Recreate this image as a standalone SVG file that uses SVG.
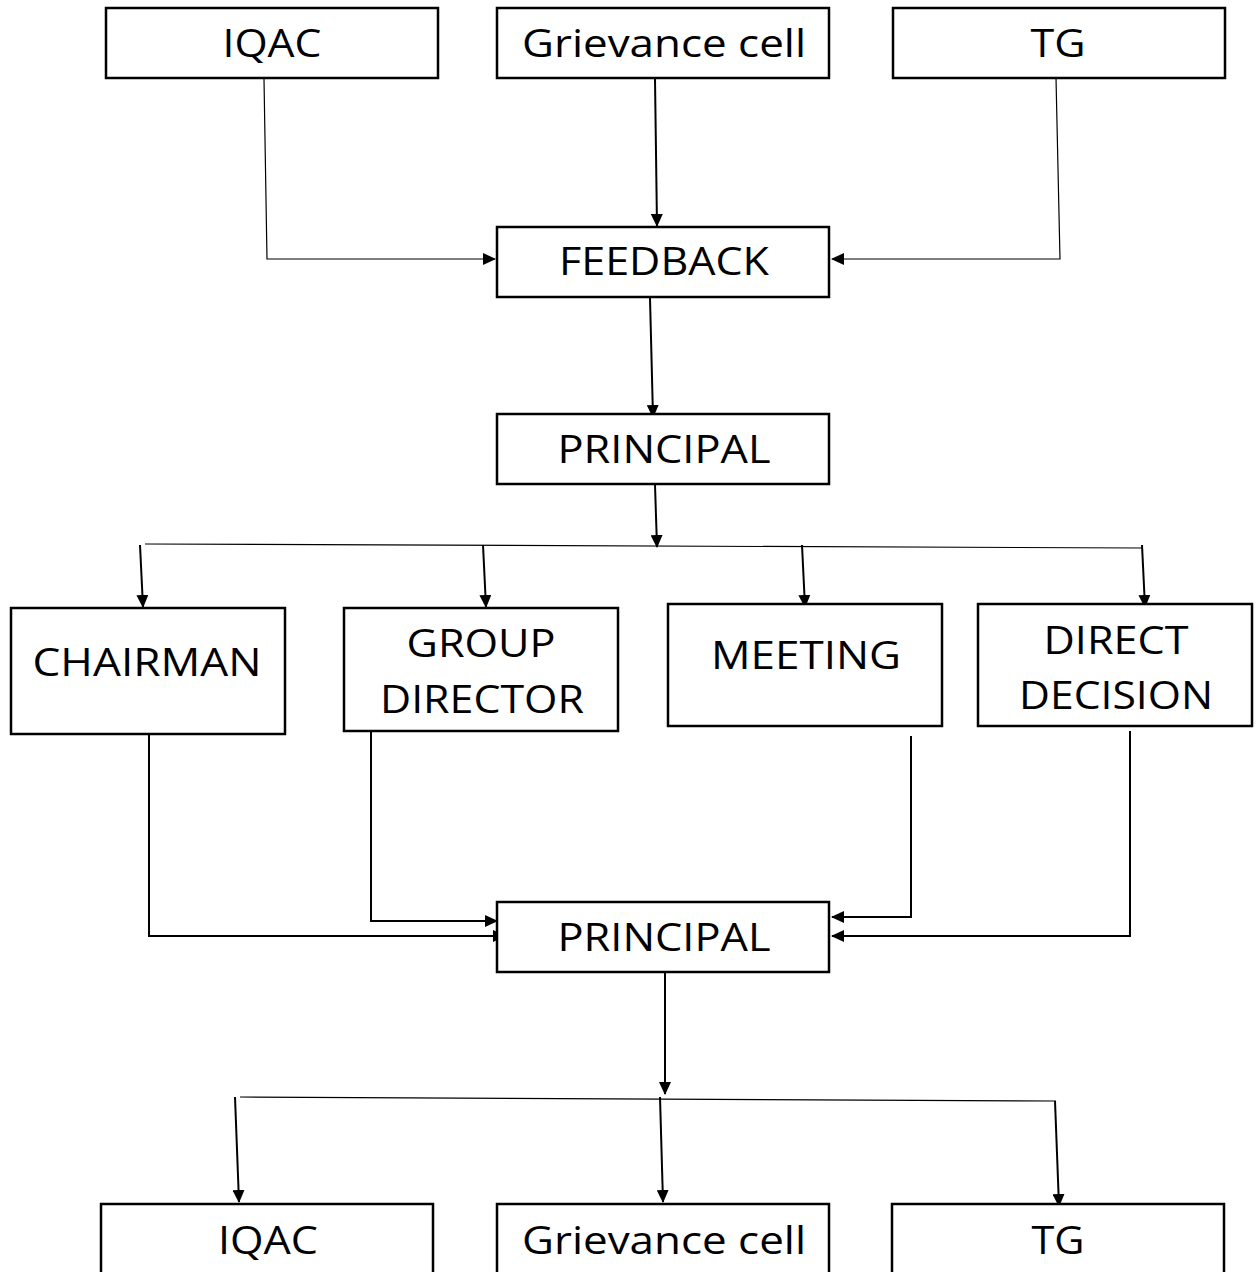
<svg xmlns="http://www.w3.org/2000/svg" width="1256" height="1272" viewBox="0 0 1256 1272">
<style>
.box{fill:#fff;stroke:#000;stroke-width:2.5}
.t{font-family:"Open Sans","Liberation Sans",sans-serif;font-size:38px;fill:#000;text-anchor:middle}
.c{fill:none;stroke:#000;stroke-width:2}
.thin{fill:none;stroke:#000;stroke-width:1.2}
</style>
<defs>
<marker id="ah" markerWidth="13" markerHeight="12" refX="12" refY="6" orient="auto" markerUnits="userSpaceOnUse" viewBox="0 0 13 12">
<path d="M0,0 L13,6 L0,12 Z" fill="#000"/>
</marker>
</defs>
<rect width="1256" height="1272" fill="#fff"/>
<g id="connectors">
<polyline class="thin" points="264,79 267,259 495,259" marker-end="url(#ah)"/>
<line class="c" x1="655" y1="79" x2="657" y2="226" marker-end="url(#ah)"/>
<polyline class="thin" points="1056,78 1060,259 832,259" marker-end="url(#ah)"/>
<line class="c" x1="650" y1="298" x2="653" y2="417" marker-end="url(#ah)"/>
<line class="c" x1="655" y1="485" x2="657" y2="547" marker-end="url(#ah)"/>
<line class="thin" x1="145" y1="544" x2="1143" y2="548"/>
<line class="c" x1="140" y1="545" x2="143" y2="607" marker-end="url(#ah)"/>
<line class="c" x1="483" y1="545" x2="486" y2="607" marker-end="url(#ah)"/>
<line class="c" x1="802" y1="545" x2="805" y2="607" marker-end="url(#ah)"/>
<line class="c" x1="1142" y1="545" x2="1145" y2="607" marker-end="url(#ah)"/>
<line class="c" x1="147" y1="732" x2="154" y2="732"/>
<polyline class="c" points="149,732 149,936 505,936" marker-end="url(#ah)"/>
<polyline class="c" points="371,731 371,921 497,921" marker-end="url(#ah)"/>
<polyline class="c" points="911,736 911,917 832,917" marker-end="url(#ah)"/>
<polyline class="c" points="1130,731 1130,936 832,936" marker-end="url(#ah)"/>
<line class="c" x1="665" y1="972" x2="665" y2="1094" marker-end="url(#ah)"/>
<line class="thin" x1="240" y1="1097" x2="1056" y2="1101"/>
<line class="c" x1="235" y1="1097" x2="239" y2="1202" marker-end="url(#ah)"/>
<line class="c" x1="660" y1="1097" x2="663" y2="1202" marker-end="url(#ah)"/>
<line class="c" x1="1055" y1="1101" x2="1059" y2="1206" marker-end="url(#ah)"/>
</g>
<g id="iqac-top"><rect class="box" x="106" y="8" width="332" height="70"/><text class="t" x="272" y="57" textLength="99" lengthAdjust="spacingAndGlyphs">IQAC</text></g>
<g id="grievance-top"><rect class="box" x="497" y="8" width="332" height="70"/><text class="t" x="664" y="57" textLength="284" lengthAdjust="spacingAndGlyphs">Grievance cell</text></g>
<g id="tg-top"><rect class="box" x="893" y="8" width="332" height="70"/><text class="t" x="1058" y="57" textLength="55" lengthAdjust="spacingAndGlyphs">TG</text></g>
<g id="feedback"><rect class="box" x="497" y="227" width="332" height="70"/><text class="t" x="664" y="275" textLength="210" lengthAdjust="spacingAndGlyphs">FEEDBACK</text></g>
<g id="principal-1"><rect class="box" x="497" y="414" width="332" height="70"/><text class="t" x="664" y="463" textLength="213" lengthAdjust="spacingAndGlyphs">PRINCIPAL</text></g>
<g id="chairman"><rect class="box" x="11" y="608" width="274" height="126"/><text class="t" x="147" y="676" textLength="229" lengthAdjust="spacingAndGlyphs">CHAIRMAN</text></g>
<g id="group-director"><rect class="box" x="344" y="608" width="274" height="123"/><text class="t" x="481" y="657" textLength="149" lengthAdjust="spacingAndGlyphs">GROUP</text><text class="t" x="482" y="713" textLength="204" lengthAdjust="spacingAndGlyphs">DIRECTOR</text></g>
<g id="meeting"><rect class="box" x="668" y="604" width="274" height="122"/><text class="t" x="806" y="669" textLength="190" lengthAdjust="spacingAndGlyphs">MEETING</text></g>
<g id="direct-decision"><rect class="box" x="978" y="604" width="274" height="122"/><text class="t" x="1116" y="654" textLength="145" lengthAdjust="spacingAndGlyphs">DIRECT</text><text class="t" x="1116" y="709" textLength="194" lengthAdjust="spacingAndGlyphs">DECISION</text></g>
<g id="principal-2"><rect class="box" x="497" y="902" width="332" height="70"/><text class="t" x="664" y="951" textLength="213" lengthAdjust="spacingAndGlyphs">PRINCIPAL</text></g>
<g id="iqac-bottom"><rect class="box" x="101" y="1204" width="332" height="80"/><text class="t" x="268" y="1254" textLength="100" lengthAdjust="spacingAndGlyphs">IQAC</text></g>
<g id="grievance-bottom"><rect class="box" x="497" y="1204" width="332" height="80"/><text class="t" x="664" y="1254" textLength="284" lengthAdjust="spacingAndGlyphs">Grievance cell</text></g>
<g id="tg-bottom"><rect class="box" x="892" y="1204" width="332" height="80"/><text class="t" x="1058" y="1254" textLength="53" lengthAdjust="spacingAndGlyphs">TG</text></g>
</svg>
